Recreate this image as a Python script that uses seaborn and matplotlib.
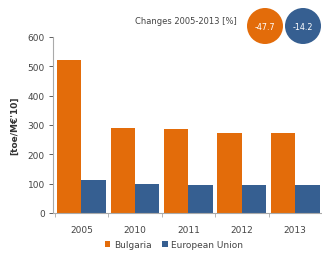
import matplotlib
matplotlib.use("Agg")
import matplotlib.pyplot as plt
import seaborn as sns
import pandas as pd
from matplotlib.patches import Circle, Patch
from matplotlib.ticker import MultipleLocator

years = ["2005", "2010", "2011", "2012", "2013"]
bulgaria = [522, 290, 287, 273, 273]
eu = [114, 100, 96, 96, 96]
series = ["Bulgaria", "European Union"]
changes = ["-47.7", "-14.2"]
colors = ["#E36C0A", "#365F91"]

df = pd.DataFrame({
    "year": years * 2,
    "value": bulgaria + eu,
    "series": [series[0]] * len(years) + [series[1]] * len(years),
})

sns.set_style("white")
plt.rcParams['font.family'] = ['DejaVu Sans']

fig = plt.figure(figsize=(3.22, 2.55), dpi=100)
ax = fig.add_axes([0.165, 0.161, 0.835, 0.690])

sns.barplot(data=df, x="year", y="value", hue="series", palette=colors,
            width=0.91, ax=ax, legend=False, saturation=1, linewidth=0)

ax.set_xlim(-0.53, 4.31)
ax.set_ylim(0, 600)
ax.yaxis.set_major_locator(MultipleLocator(100))
ax.set_xlabel("")
ax.set_ylabel("[toe/M€'10]", fontsize=6.5, fontweight="bold", color="#333333", labelpad=6)
ax.tick_params(axis="y", labelsize=6.5, colors="#444444", length=3, width=0.6, direction="out", left=True, pad=3)
ax.tick_params(axis="x", labelsize=6.5, colors="#444444", length=0, pad=9)
ax.set_xticks(range(len(years)))
ax.set_xticks([i + 0.5 for i in range(-1, len(years))], minor=True)
ax.tick_params(axis="x", which="minor", length=3, width=0.6, color="#AAAAAA", direction="out", bottom=True)
for side in ["top", "right"]:
    ax.spines[side].set_visible(False)
for side in ["left", "bottom"]:
    ax.spines[side].set_color("#AAAAAA")
    ax.spines[side].set_linewidth(0.8)

# legend
handles = [Patch(facecolor=c, edgecolor="none", label=s) for c, s in zip(colors, series)]
fig.legend(handles=handles, loc="center", bbox_to_anchor=(174 / 322, 1 - 246 / 255),
           ncol=2, frameon=False, fontsize=6.5, handlelength=0.6, handleheight=0.6,
           handletextpad=0.4, columnspacing=1.2, labelcolor="#444444")

# changes annotation
fig.text(135 / 322, 1 - 22 / 255, "Changes 2005-2013 [%]", fontsize=6.0, color="#444444",
         ha="left", va="center")
centers = [(2.65, 2.28), (3.03, 2.28)]
for (cx, cy), c, t in zip(centers, colors, changes):
    circ = Circle((cx, cy), 0.18, transform=fig.dpi_scale_trans, facecolor=c, edgecolor="none")
    fig.add_artist(circ)
    fig.text(cx / 3.22, cy / 2.55, t, fontsize=5.8, color="white", ha="center", va="center")

fig.savefig("out.png", dpi=100)
